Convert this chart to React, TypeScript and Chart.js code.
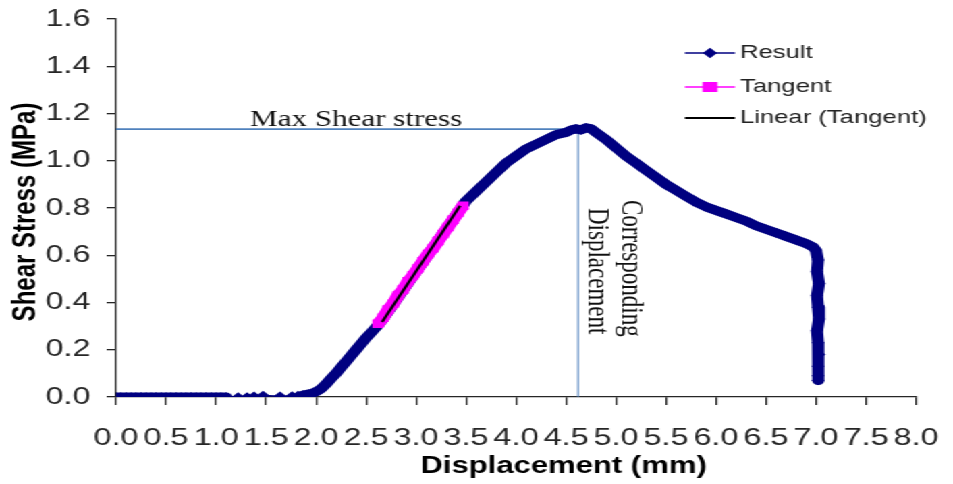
import React, { useEffect, useRef } from 'react';
import { Chart, registerables } from 'chart.js';

Chart.register(...registerables);

// ---------- data ----------
const result: [number, number][] = [
  [0, 0], [0.05, 0], [0.1, 0], [0.15, 0], [0.2, 0], [0.25, 0], [0.3, 0], [0.35, 0], [0.4, 0], [0.45, 0],
  [0.5, 0], [0.55, 0], [0.6, 0], [0.65, 0], [0.7, 0], [0.75, 0], [0.8, 0], [0.85, 0], [0.9, 0], [0.95, 0],
  [1.0, 0], [1.05, 0], [1.1, 0], [1.22, 0], [1.31, 0], [1.38, 0.003], [1.47, 0.006], [1.64, 0.003],
  [1.76, 0.004], [1.82, 0.006], [1.87, 0.008], [1.92, 0.012], [1.96, 0.016], [2.0, 0.022], [2.05, 0.035],
  [2.1, 0.055], [2.15, 0.078], [2.2, 0.1], [2.25, 0.125], [2.3, 0.15], [2.35, 0.175], [2.4, 0.2],
  [2.45, 0.225], [2.5, 0.25], [2.55, 0.272], [2.6, 0.295], [2.65, 0.32], [2.7, 0.35], [2.8, 0.41],
  [2.9, 0.47], [3.0, 0.53], [3.1, 0.59], [3.2, 0.65], [3.3, 0.71], [3.4, 0.77], [3.5, 0.83], [3.6, 0.87],
  [3.7, 0.91], [3.8, 0.95], [3.9, 0.99], [4.0, 1.02], [4.1, 1.05], [4.2, 1.07], [4.3, 1.09], [4.4, 1.11],
  [4.5, 1.12], [4.55, 1.13], [4.6, 1.135], [4.65, 1.13], [4.7, 1.14], [4.75, 1.135], [4.8, 1.12],
  [4.9, 1.09], [5.0, 1.055], [5.1, 1.02], [5.2, 0.99], [5.3, 0.96], [5.4, 0.93], [5.5, 0.9], [5.6, 0.875],
  [5.7, 0.85], [5.8, 0.825], [5.9, 0.805], [6.0, 0.79], [6.1, 0.775], [6.2, 0.76], [6.3, 0.745],
  [6.4, 0.725], [6.5, 0.71], [6.6, 0.695], [6.7, 0.68], [6.8, 0.665], [6.9, 0.65], [6.97, 0.635],
  [7.0, 0.62], [7.02, 0.58], [7.01, 0.53], [7.03, 0.48], [7.01, 0.43], [7.02, 0.38], [7.03, 0.33],
  [7.01, 0.28], [7.02, 0.23], [7.03, 0.18], [7.02, 0.13], [7.02, 0.09], [7.02, 0.07],
];

const tangent: [number, number][] = [
  [2.62, 0.31], [2.67, 0.335], [2.72, 0.37], [2.77, 0.395], [2.82, 0.43], [2.87, 0.455], [2.92, 0.49],
  [2.97, 0.515], [3.02, 0.545], [3.07, 0.575], [3.12, 0.605], [3.17, 0.63], [3.22, 0.66], [3.27, 0.69],
  [3.32, 0.72], [3.37, 0.75], [3.42, 0.78], [3.47, 0.81],
];

const linearTangent: [number, number][] = [[2.66, 0.317], [3.44, 0.81]];

const maxStress = 1.134;
const corrDisp = 4.62;

const xTickLabels = ['0.0', '0.5', '1.0', '1.5', '2.0', '2.5', '3.0', '3.5', '4.0', '4.5', '5.0', '5.5', '6.0', '6.5', '7.0', '7.5', '8.0'];
const yTickLabels = ['0.0', '0.2', '0.4', '0.6', '0.8', '1.0', '1.2', '1.4', '1.6'];

const legendLabels = ['Result', 'Tangent', 'Linear (Tangent)'];
const xTitle = 'Displacement (mm)';
const yTitle = 'Shear Stress (MPa)';
const maxLabel = 'Max Shear stress';
const corrLabel = ['Corresponding', 'Displacement'];

// ---------- layout / style ----------
const CW = 706;
const CH = 484;
const SX = 953 / CW;
const SANS = '"Liberation Sans", Arial, Helvetica, sans-serif';
const SERIF = '"Liberation Serif", "Times New Roman", serif';
const NAVY = '#000080';
const MAGENTA = '#ff00ff';
const REF = '#4f81bd';
const AXIS = '#262626';

const toPts = (a: [number, number][]) => a.map(([x, y]) => ({ x, y }));

const overlay = {
  id: 'overlay',
  afterDatasetsDraw(chart: any) {
    const { ctx, scales } = chart;
    const xs = scales.x;
    const ys = scales.y;
    ctx.save();
    ctx.fillStyle = '#111';
    ctx.font = `23px ${SERIF}`;
    ctx.textAlign = 'left';
    ctx.textBaseline = 'alphabetic';
    ctx.fillText(maxLabel, xs.getPixelForValue(1.34), ys.getPixelForValue(maxStress) - 3);

    const vx = xs.getPixelForValue(corrDisp);
    ctx.save();
    ctx.translate(vx + 32.6, ys.getPixelForValue(0.834));
    ctx.rotate(Math.PI / 2);
    ctx.fillText(corrLabel[0], 0, 0);
    ctx.restore();
    ctx.save();
    ctx.translate(vx + 8.2, ys.getPixelForValue(0.8));
    ctx.rotate(Math.PI / 2);
    ctx.fillText(corrLabel[1], 0, 0);
    ctx.restore();

    // axis titles
    ctx.fillStyle = '#000';
    ctx.font = `bold 23px ${SANS}`;
    ctx.textAlign = 'center';
    ctx.textBaseline = 'middle';
    ctx.fillText(xTitle, 417.5, 467);
    ctx.font = `bold 24px ${SANS}`;
    ctx.save();
    ctx.translate(19.6, 212);
    ctx.rotate(-Math.PI / 2);
    ctx.fillText(yTitle, 0, 0);
    ctx.restore();

    // legend
    const x0 = 507.4, x1 = 544.5, mx = 526, tx = 548.2;
    const rowsY = [53, 87, 118];
    ctx.font = `19px ${SANS}`;
    ctx.textAlign = 'left';
    ctx.textBaseline = 'middle';
    const colors = [NAVY, MAGENTA, '#000'];
    const widths = [1.5, 1.5, 2.2];
    rowsY.forEach((ry, i) => {
      ctx.strokeStyle = colors[i];
      ctx.lineWidth = widths[i];
      ctx.beginPath();
      ctx.moveTo(x0, ry);
      ctx.lineTo(x1, ry);
      ctx.stroke();
      ctx.fillStyle = colors[i];
      if (i === 0) {
        ctx.beginPath();
        ctx.moveTo(mx - 5.3, ry);
        ctx.lineTo(mx, ry - 5.3);
        ctx.lineTo(mx + 5.3, ry);
        ctx.lineTo(mx, ry + 5.3);
        ctx.closePath();
        ctx.fill();
      } else if (i === 1) {
        ctx.fillRect(mx - 5.5, ry - 5, 11, 10);
      }
      ctx.fillStyle = '#222';
      ctx.fillText(legendLabels[i], tx, ry);
    });
    ctx.restore();
  },
};

export default function App() {
  const ref = useRef<HTMLCanvasElement>(null);

  useEffect(() => {
    if (!ref.current) return;
    const chart = new Chart(ref.current, {
      type: 'line',
      data: {
        datasets: [
          {
            label: legendLabels[2],
            data: toPts(linearTangent),
            borderColor: '#000',
            borderWidth: 2.2,
            pointRadius: 0,
            fill: false,
          },
          {
            label: legendLabels[1],
            data: toPts(tangent),
            borderColor: MAGENTA,
            backgroundColor: MAGENTA,
            borderWidth: 10,
            pointStyle: 'rect',
            pointRadius: 6,
            pointBorderWidth: 0,
            fill: false,
          },
          {
            label: legendLabels[0],
            data: toPts(result),
            borderColor: NAVY,
            backgroundColor: NAVY,
            borderWidth: 9,
            borderJoinStyle: 'round',
            borderCapStyle: 'round',
            pointStyle: 'rectRot',
            pointRadius: 4.8,
            pointBorderWidth: 0,
            fill: false,
            segment: {
              borderWidth: (c: any) => (c.p0.parsed.x >= 1.1 && c.p1.parsed.x <= 1.87 ? 1.5 : 9),
            },
          },
          {
            label: 'maxH',
            data: [{ x: 0, y: maxStress }, { x: corrDisp, y: maxStress }],
            borderColor: REF,
            borderWidth: 1.6,
            pointRadius: 0,
            fill: false,
          },
          {
            label: 'maxV',
            data: [{ x: corrDisp, y: maxStress }, { x: corrDisp, y: 0 }],
            borderColor: REF,
            borderWidth: 1.1,
            pointRadius: 0,
            fill: false,
          },
        ],
      } as any,
      options: {
        animation: false,
        responsive: true,
        maintainAspectRatio: false,
        layout: { padding: { top: 19, right: 27.4, bottom: 0, left: 0 } },
        plugins: {
          legend: { display: false },
          tooltip: { enabled: false },
        },
        scales: {
          x: {
            type: 'linear',
            min: 0,
            max: 8,
            afterBuildTicks: (s: any) => {
              s.ticks = xTickLabels.map((t) => ({ value: parseFloat(t) }));
            },
            afterFit: (s: any) => {
              s.height = 87;
              s.paddingLeft = 0;
              s.paddingRight = 0;
            },
            ticks: {
              autoSkip: false,
              maxRotation: 0,
              minRotation: 0,
              padding: 19,
              color: AXIS,
              font: { family: SANS, size: 24 },
              callback: (v: any) => Number(v).toFixed(1),
            },
            grid: { drawOnChartArea: false, drawTicks: true, tickLength: 8, color: AXIS, lineWidth: 1.3 },
            border: { display: true, color: AXIS, width: 1.3 },
          },
          y: {
            type: 'linear',
            min: 0,
            max: 1.6,
            afterBuildTicks: (s: any) => {
              s.ticks = yTickLabels.map((t) => ({ value: parseFloat(t) }));
            },
            afterFit: (s: any) => {
              s.width = 86;
              s.paddingTop = 0;
              s.paddingBottom = 0;
            },
            ticks: {
              padding: 12,
              color: AXIS,
              font: { family: SANS, size: 24 },
              callback: (v: any) => Number(v).toFixed(1),
            },
            grid: { drawOnChartArea: false, drawTicks: true, tickLength: 7, color: AXIS, lineWidth: 1.3 },
            border: { display: true, color: AXIS, width: 1.3 },
          },
        },
      } as any,
      plugins: [overlay],
    });
    return () => chart.destroy();
  }, []);

  return (
    <div
      style={{
        position: 'fixed',
        left: 0,
        top: 0,
        width: `${CW}px`,
        height: `${CH}px`,
        transform: `scaleX(${SX})`,
        transformOrigin: '0 0',
        background: '#fff',
      }}
    >
      <canvas ref={ref} />
    </div>
  );
}
